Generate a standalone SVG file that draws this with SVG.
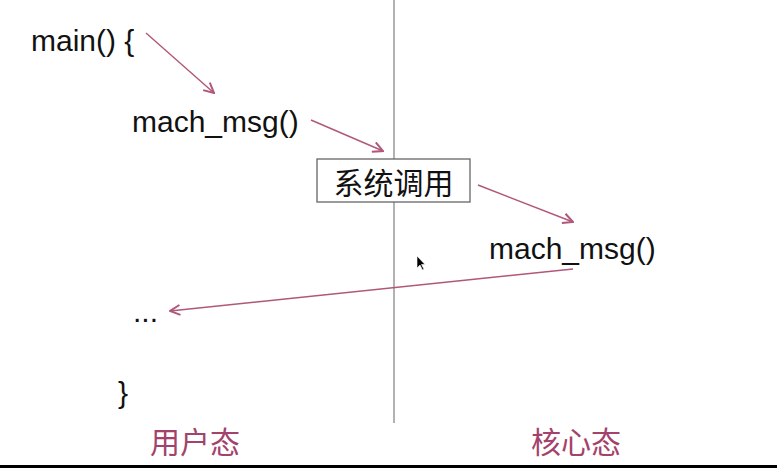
<svg xmlns="http://www.w3.org/2000/svg" width="777" height="468" viewBox="0 0 777 468">
<style>
.code{font-family:"Liberation Sans",Arial,sans-serif;font-size:30px;fill:#111}
.cjk{font-family:"Noto Sans CJK SC","Noto Sans CJK JP",sans-serif;font-size:30px;fill:#111}
.lbl{font-family:"Noto Sans CJK SC","Noto Sans CJK JP",sans-serif;font-size:30px;fill:#a3426b}
.conn{stroke:#b0577a;stroke-width:1.4;fill:none;marker-end:url(#ah)}
</style>
<defs>
<marker id="ah" viewBox="0 0 12 12" refX="11" refY="6" markerWidth="12" markerHeight="12" markerUnits="userSpaceOnUse" orient="auto">
<path d="M1,1 L11,6 L1,11" fill="none" stroke="#b0577a" stroke-width="2"/>
</marker>
</defs>
<rect width="777" height="468" fill="#fff"/>
<line id="divider" x1="394" y1="0" x2="394" y2="423" stroke="#999" stroke-width="1.5"/>
<g id="main"><text class="code" x="31" y="51">main() {</text></g>
<g id="mach_msg_user"><text class="code" x="132" y="132">mach_msg()</text></g>
<g id="syscall"><rect x="317" y="159" width="153" height="43" fill="#fff" stroke="#666" stroke-width="1.3"/><text class="cjk" x="393.5" y="194" text-anchor="middle">系统调用</text></g>
<g id="mach_msg_kernel"><text class="code" x="489" y="259">mach_msg()</text></g>
<g id="ellipsis"><text class="code" x="133" y="322">...</text></g>
<g id="close"><text class="code" x="118" y="403">}</text></g>
<g id="user_label"><text class="lbl" x="195" y="453" text-anchor="middle">用户态</text></g>
<g id="kernel_label"><text class="lbl" x="576" y="453" text-anchor="middle">核心态</text></g>
<g id="connectors">
<line class="conn" x1="146" y1="33" x2="214" y2="93"/>
<line class="conn" x1="311" y1="120" x2="383" y2="151"/>
<line class="conn" x1="478" y1="185" x2="573" y2="222"/>
<line class="conn" x1="573" y1="269" x2="170" y2="311"/>
</g>
<path d="M417,256 L417,268 L420,265 L422.5,270 L424,269.3 L421.5,264.5 L425,264.5 Z" fill="#000" stroke="#fff" stroke-width="0.6"/>
<rect x="0" y="465" width="777" height="3" fill="#000"/>
</svg>
